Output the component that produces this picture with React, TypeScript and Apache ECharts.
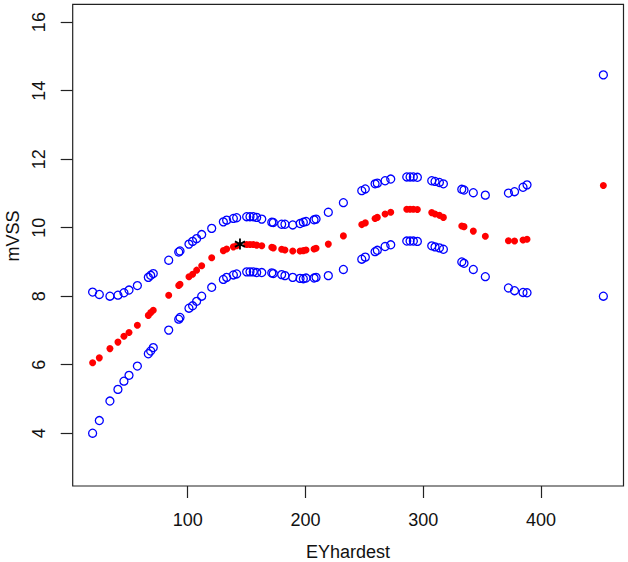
import React, { useEffect, useRef } from "react";
import * as echarts from "echarts";

// x positions of the fitted points (EYhardest)
const xValues = [
  19.3, 25.0, 34.0, 40.8, 45.9, 50.2, 57.3, 66.6, 68.6, 70.8, 83.9, 92.4, 93.5, 101.1, 104.2, 107.6, 111.9, 120.4, 130.3, 133.1,
  138.8, 141.6, 150.1, 152.9, 155.7, 158.6, 162.9, 171.4, 172.7, 179.8, 182.6, 189.2, 195.4, 198.2, 200.5, 207.3, 209.0, 219.4, 232.2, 247.8, 250.8, 259.1, 261.0, 267.6, 272.4,
  286.0, 288.8, 291.6, 295.0, 307.2, 310.0, 313.7, 317.1, 332.7, 334.6, 342.5, 352.7, 372.3, 377.5, 384.7, 388.1, 452.9,
];

// fitted values (red dots)
const fitValues = [
  6.06, 6.20, 6.47, 6.66, 6.83, 6.94, 7.15, 7.44, 7.52, 7.59, 8.03, 8.31, 8.35, 8.57, 8.64, 8.76, 8.89, 9.12, 9.33, 9.38,
  9.44, 9.47, 9.51, 9.51, 9.51, 9.49, 9.47, 9.43, 9.41, 9.37, 9.35, 9.32, 9.32, 9.33, 9.35, 9.38, 9.40, 9.52, 9.76, 10.09, 10.14, 10.27, 10.30, 10.40, 10.45,
  10.54, 10.54, 10.54, 10.53, 10.44, 10.40, 10.36, 10.30, 10.05, 10.03, 9.90, 9.75, 9.62, 9.61, 9.64, 9.66, 11.23,
];

// upper band (blue open circles)
const upperValues = [
  8.12, 8.05, 8.00, 8.03, 8.10, 8.18, 8.31, 8.55, 8.61, 8.66, 9.05, 9.29, 9.32, 9.52, 9.60, 9.68, 9.80, 9.98, 10.17, 10.22,
  10.27, 10.29, 10.32, 10.32, 10.32, 10.30, 10.25, 10.16, 10.15, 10.10, 10.10, 10.08, 10.12, 10.16, 10.18, 10.23, 10.25, 10.45, 10.73, 11.08, 11.13, 11.28, 11.30, 11.37, 11.42,
  11.48, 11.48, 11.48, 11.47, 11.37, 11.35, 11.32, 11.28, 11.12, 11.10, 11.02, 10.95, 11.01, 11.05, 11.18, 11.25, 14.46,
];

// lower band (blue open circles)
const lowerValues = [
  4.00, 4.37, 4.94, 5.28, 5.52, 5.69, 5.96, 6.32, 6.40, 6.50, 7.01, 7.33, 7.38, 7.65, 7.72, 7.85, 8.00, 8.26, 8.49, 8.55,
  8.62, 8.65, 8.71, 8.71, 8.71, 8.69, 8.69, 8.68, 8.66, 8.63, 8.60, 8.55, 8.52, 8.51, 8.53, 8.53, 8.55, 8.60, 8.78, 9.08, 9.14, 9.30, 9.34, 9.45, 9.50,
  9.61, 9.61, 9.61, 9.60, 9.47, 9.44, 9.41, 9.37, 9.00, 8.96, 8.78, 8.57, 8.24, 8.16, 8.11, 8.10, 8.00,
];

// highlighted observation (black asterisk)
const starX = [144.4];
const starY = [9.52];

const xTicks = [100, 200, 300, 400];
const yTicks = [4, 6, 8, 10, 12, 14, 16];
const xTitle = "EYhardest";
const yTitle = "mVSS";

const ASTERISK =
  "path://M42 0L58 0L58 100L42 100Z M10.7 81.9L2.7 68.1L89.3 18.1L97.3 31.9Z M97.3 68.1L89.3 81.9L2.7 31.9L10.7 18.1Z";

export default function App() {
  const ref = useRef<HTMLDivElement>(null);

  useEffect(() => {
    if (!ref.current) return;
    const chart = echarts.init(ref.current, null, { renderer: "svg" });
    const zip = (ys: number[]) => xValues.map((x, i) => [x, ys[i]]);
    const font = "Liberation Sans, Arial, Helvetica, sans-serif";
    const frame = "#222";

    chart.setOption({
      animation: false,
      backgroundColor: "#fff",
      textStyle: { fontFamily: font },
      grid: {
        left: 72.7,
        right: 4.5,
        top: 4.3,
        bottom: 76,
        show: true,
        borderColor: frame,
        borderWidth: 1.2,
        backgroundColor: "transparent",
      },
      xAxis: {
        type: "value",
        min: 2.4,
        max: 470,
        axisLine: { show: false },
        splitLine: { show: false },
        axisTick: { show: true, customValues: xTicks, length: 12, lineStyle: { color: frame, width: 1.2 } },
        axisLabel: { customValues: xTicks, fontSize: 18, color: "#111", margin: 25, fontFamily: font },
      },
      yAxis: {
        type: "value",
        min: 2.46,
        max: 16.52,
        axisLine: { show: false },
        splitLine: { show: false },
        axisTick: { show: true, customValues: yTicks, length: 12, lineStyle: { color: frame, width: 1.2 } },
        axisLabel: { customValues: yTicks, fontSize: 18, color: "#111", margin: 25, rotate: 90, fontFamily: font },
      },
      graphic: [
        {
          type: "text",
          x: 348,
          y: 551.7,
          style: {
            text: xTitle,
            fontSize: 18,
            fontFamily: font,
            fill: "#111",
            textAlign: "center",
            textVerticalAlign: "middle",
          },
        },
        {
          type: "text",
          x: 12.7,
          y: 236,
          rotation: Math.PI / 2,
          style: {
            text: yTitle,
            fontSize: 18,
            fontFamily: font,
            fill: "#111",
            textAlign: "center",
            textVerticalAlign: "middle",
          },
        },
      ],
      series: [
        {
          type: "scatter",
          data: zip(upperValues),
          symbol: "circle",
          symbolSize: 8,
          itemStyle: { color: "rgba(0,0,0,0)", borderColor: "#0000FF", borderWidth: 1.3, opacity: 1 },
          silent: true,
        },
        {
          type: "scatter",
          data: zip(lowerValues),
          symbol: "circle",
          symbolSize: 8,
          itemStyle: { color: "rgba(0,0,0,0)", borderColor: "#0000FF", borderWidth: 1.3, opacity: 1 },
          silent: true,
        },
        {
          type: "scatter",
          data: zip(fitValues),
          symbol: "circle",
          symbolSize: 7,
          itemStyle: { color: "#FF0000", opacity: 1 },
          silent: true,
        },
        {
          type: "scatter",
          data: starX.map((x, i) => [x, starY[i]]),
          symbol: ASTERISK,
          symbolSize: [11, 11],
          itemStyle: { color: "#000", opacity: 1 },
          silent: true,
        },
      ],
    });

    return () => chart.dispose();
  }, []);

  return (
    <div
      ref={ref}
      style={{ position: "absolute", left: 0, top: 0, width: 628, height: 562 }}
    />
  );
}
